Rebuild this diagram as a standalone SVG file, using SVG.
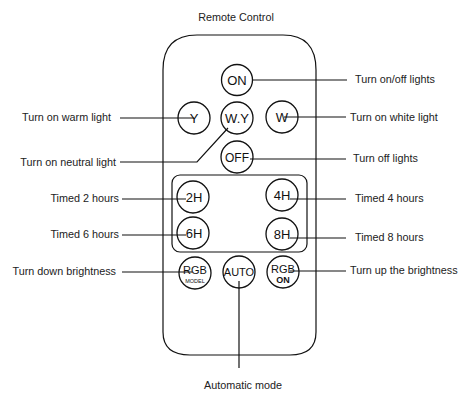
<svg xmlns="http://www.w3.org/2000/svg" width="461" height="394" viewBox="0 0 461 394">
<style>
.lbl{font-family:"Liberation Sans",Arial,sans-serif;font-size:10.8px;fill:#222}
.btn{fill:none;stroke:#111;stroke-width:1.3}
.bt{font-family:"Liberation Sans",Arial,sans-serif;font-size:13px;fill:#111;text-anchor:middle}
.ln{stroke:#111;stroke-width:1.2;fill:none}
</style>
<rect width="461" height="394" fill="#fff"/>
<text class="lbl" x="236" y="21" text-anchor="middle">Remote Control</text>
<g id="remote">
<path class="ln" d="M197,35 L283,35 Q316,35 316,70 L316,332 Q316,355 290,355 L190,355 Q163,355 163,332 L163,70 Q163,35 197,35 Z"/>
<rect class="ln" x="172" y="175" width="135" height="77" rx="8"/>
</g>
<g id="connectors">
<line class="ln" x1="252" y1="80" x2="347" y2="80"/>
<line class="ln" x1="120" y1="118" x2="194" y2="118"/>
<line class="ln" x1="284" y1="117" x2="346" y2="117"/>
<polyline class="ln" points="120,162 197,162 228,128"/>
<line class="ln" x1="250" y1="159" x2="346" y2="159"/>
<line class="ln" x1="122" y1="199" x2="186" y2="199"/>
<line class="ln" x1="122" y1="235" x2="186" y2="235"/>
<line class="ln" x1="290" y1="199" x2="346" y2="199"/>
<line class="ln" x1="290" y1="238" x2="346" y2="238"/>
<line class="ln" x1="122" y1="272" x2="192" y2="272"/>
<line class="ln" x1="290" y1="271" x2="346" y2="271"/>
<line class="ln" x1="239" y1="281" x2="239" y2="368"/>
</g>
<g id="btn-on"><circle class="btn" cx="237" cy="80" r="15.5"/><text class="bt" x="237" y="85">ON</text></g>
<g id="btn-y"><circle class="btn" cx="194" cy="118" r="16"/><text class="bt" x="194" y="123">Y</text></g>
<g id="btn-wy"><circle class="btn" cx="237" cy="118" r="16"/><text class="bt" x="237" y="123">W.Y</text></g>
<g id="btn-w"><circle class="btn" cx="282" cy="117" r="16"/><text class="bt" x="282" y="122">W</text></g>
<g id="btn-off"><circle class="btn" cx="237" cy="157" r="16"/><text class="bt" x="237" y="162" style="font-size:12px">OFF</text></g>
<g id="btn-2h"><circle class="btn" cx="193" cy="197" r="16"/><text class="bt" x="194" y="202">2H</text></g>
<g id="btn-6h"><circle class="btn" cx="193" cy="233" r="16"/><text class="bt" x="194" y="238">6H</text></g>
<g id="btn-4h"><circle class="btn" cx="282" cy="195" r="16"/><text class="bt" x="282" y="200">4H</text></g>
<g id="btn-8h"><circle class="btn" cx="282" cy="234" r="16"/><text class="bt" x="282" y="239">8H</text></g>
<g id="btn-rgbmodel"><circle class="btn" cx="195" cy="273" r="16"/><text class="bt" x="195" y="274" style="font-size:11px">RGB</text><text class="bt" x="195" y="283" style="font-size:5.5px">MODEL</text></g>
<g id="btn-auto"><circle class="btn" cx="239" cy="272" r="16"/><text class="bt" x="239" y="276" style="font-size:11px">AUTO</text></g>
<g id="btn-rgbon"><circle class="btn" cx="283" cy="272" r="16"/><text class="bt" x="283" y="273" style="font-size:11px">RGB</text><text class="bt" x="283" y="283" style="font-size:9px;font-weight:bold">ON</text></g>
<g id="labels">
<text class="lbl" x="355" y="83">Turn on/off lights</text>
<text class="lbl" x="111" y="121" text-anchor="end">Turn on warm light</text>
<text class="lbl" x="350" y="121">Turn on white light</text>
<text class="lbl" x="116" y="166" text-anchor="end">Turn on neutral light</text>
<text class="lbl" x="353" y="162">Turn off lights</text>
<text class="lbl" x="119" y="202" text-anchor="end">Timed 2 hours</text>
<text class="lbl" x="119" y="238" text-anchor="end">Timed 6 hours</text>
<text class="lbl" x="355" y="202">Timed 4 hours</text>
<text class="lbl" x="355" y="241">Timed 8 hours</text>
<text class="lbl" x="116" y="275" text-anchor="end">Turn down brightness</text>
<text class="lbl" x="350" y="274">Turn up the brightness</text>
<text class="lbl" x="243" y="389" text-anchor="middle">Automatic mode</text>
</g>
</svg>
